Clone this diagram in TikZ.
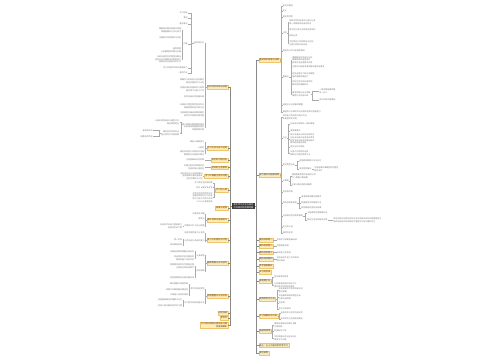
\documentclass[tikz,border=0pt]{standalone}
\usepackage{fontspec}
\setmainfont{Noto Sans CJK SC}
\definecolor{ybg}{HTML}{FDECBA}
\definecolor{ybd}{HTML}{F0C46C}
\definecolor{cbg}{HTML}{3A3A3A}
\definecolor{ln}{HTML}{AAAAAA}
\definecolor{tx}{HTML}{7A7A7A}
\tikzset{
 lf/.style={inner sep=0.2pt, text=tx, font=\fontsize{2}{2.6}\selectfont},
 ll/.style={lf, anchor=east, align=right},
 rl/.style={lf, anchor=west, align=left},
 yb/.style={fill=ybg, draw=ybd, line width=0.3pt, inner sep=0.7pt, text=black!75, font=\fontsize{2.2}{2.8}\selectfont},
 lyb/.style={yb, anchor=east, align=right},
 ryb/.style={yb, anchor=west, align=left},
 cnode/.style={fill=cbg, text=white, inner xsep=1.5pt, inner ysep=1pt, align=center, font=\fontsize{2.2}{2.8}\selectfont},
 cn/.style={line width=0.3pt, draw=ln},
 tk/.style={line width=0.6pt, draw=ln!80!black},
}
\begin{document}
\begin{tikzpicture}[x=1pt,y=-1pt]
\useasboundingbox (0,0) rectangle (500,360);
\node[cnode] (C) at (243.5,206) {高中学习方法与知识\\点归纳总结思维导图};
% ================= LEFT =================
\node[lyb] (L1) at (228,87) {知识点的归纳与总结};
\node[lyb] (L2) at (228,148) {学习方法与技巧总结};
\node[lyb] (L3) at (228,160) {常见的问题分析};
\node[lyb] (L4) at (228,167.5) {考试的注意事项};
\node[lyb] (L5) at (228,176) {学习中需要注意的问题};
\node[lyb] (L6) at (228,190) {学习的心得};
\node[lyb] (L7) at (228,208) {拓展与延伸};
\node[lyb] (L8) at (228,220) {课外阅读与拓展练习};
\node[lyb] (L9) at (228,240) {复习与巩固阶段计划};
\node[lyb] (L10) at (228,263) {解题思路与方法技巧};
\node[lyb] (L11) at (228,296) {错题整理与分析反思};
\node[lyb] (L12) at (228,313) {总结归纳};
\node[lyb] (L13) at (228,318) {参考书};
\node[lyb] (L14) at (228,325) {学习资料推荐与相关练习题\\及答案解析};
\foreach \n in {L1,L2,L3,L4,L5,L6,L7,L8,L9,L10,L11,L12,L13,L14}
  \draw[tk] (C.west) -- ++(-1.5,0) |- (\n.east);
% L1 subtree
\node[ll] (A) at (204.5,43) {基本知识点};
\node[ll] (a1a) at (188,13) {学习目标};
\node[ll] (a1b) at (188,18) {其他};
\node[ll] (a1c) at (188,24) {重点难点};
\node[ll] (B) at (188,44) {内容};
\node[ll] (b11) at (181.5,30) {理解基本概念和基本原理\\掌握重要的方法与技巧};
\node[ll] (b12) at (181.5,37.5) {注重知识间的联系与区别};
\node[ll] (b13) at (181.5,50) {典型例题\\分析解题的思路与步骤};
\node[ll] (b14) at (181.5,59.5) {归纳总结常见的题型及解法\\培养分析问题解决问题的能力\\提高综合运用知识的水平};
\node[ll] (a1e) at (188,68) {练习巩固所学知识提高能力};
\node[ll] (a1f) at (188,73) {课后作业};
\node[ll] (b1) at (204.5,81) {明确学习的目标与任务要求\\制定合理的学习计划};
\node[ll] (b2) at (204.5,89.5) {合理安排时间提高学习效率\\做好预习与复习工作};
\node[ll] (b3) at (204.5,96.5) {及时总结反思查漏补缺};
\node[ll] (b4) at (204.5,106) {多做练习题型熟悉各类考点\\掌握答题的技巧和方法};
\node[ll] (b5) at (204.5,114) {注意审题仔细阅读题目要求\\规范书写答题步骤完整};
\node[ll] (Cn) at (204.5,127) {建立错题本整理典型错误\\分析错误原因避免再犯\\定期回顾巩固};
\node[ll] (c1) at (179.5,122) {认真听讲积极参与课堂讨论\\做好课堂笔记};
\node[ll] (D) at (179.5,133) {课后及时完成作业\\独立思考不抄袭答案};
\node[ll] (d1) at (153,130.5) {查阅资料书};
\node[ll] (d2) at (153,136.5) {请教老师同学};
\foreach \c in {A,b1,b2,b3,b4,b5,Cn} \draw[cn] (L1.west) -- ++(-1,0) |- (\c.east);
\foreach \c in {a1a,a1b,a1c,B,a1e,a1f} \draw[cn] (A.west) -- ++(-3,0) |- (\c.east);
\foreach \c in {b11,b12,b13,b14} \draw[cn] (B.west) -- ++(-1,0) |- (\c.east);
\foreach \c in {c1,D} \draw[cn] (Cn.west) -- ++(-1,0) |- (\c.east);
\foreach \c in {d1,d2} \draw[cn] (D.west) -- ++(-2,0) |- (\c.east);
% L2..L5
\node[ll] (e1) at (204.5,142) {课前认真做预习};
\node[ll] (e2) at (204.5,148) {认真听};
\node[ll] (e3) at (204.5,153.5) {课后及时复习巩固所学内容\\整理笔记归纳知识要点};
\foreach \c in {e1,e2,e3} \draw[cn] (L2.west) -- ++(-1,0) |- (\c.east);
\node[ll] (f1) at (204.5,160) {注意基础知识的积累};
\draw[cn] (L3.west) -- (f1.east);
\node[ll] (g1) at (204.5,167.5) {合理分配考试答题时间\\先易后难认真检查};
\draw[cn] (L4.west) -- (g1.east);
\node[ll] (h1) at (203,176) {保持良好的心态积极面对\\遇到困难不要轻易放弃\\坚持不懈持之以恒};
\draw[cn] (L5.west) -- (h1.east);
% L6
\node[ll] (i1) at (213,183) {学习贵在坚持和积累};
\node[ll] (E) at (213,187.5) {勤学多思考};
\node[ll] (e11) at (200.5,187.5) {好问};
\node[ll] (i3) at (213,197.5) {学而不思则罔思而不学\\温故而知新可以为师矣\\知之为知之不知为不知\\三人行必有我师焉};
\foreach \c in {i1,E,i3} \draw[cn] (L6.west) -- ++(-1,0) |- (\c.east);
\draw[cn] (E.west) -- (e11.east);
% L8
\node[ll] (j1) at (205,214) {阅读相关书籍};
\node[ll] (j2) at (205,219) {做笔记};
\node[ll] (F) at (205,226) {积累知识扩大自己视野};
\node[ll] (f11) at (182.6,226) {多读多写多练习提高能力\\培养良好的习惯};
\foreach \c in {j1,j2,F} \draw[cn] (L8.west) -- ++(-1,0) |- (\c.east);
\draw[cn] (F.west) -- (f11.east);
% L9
\node[ll] (k1) at (205,233) {制定合理的复习计划表};
\node[ll] (G) at (205,241) {分阶段进行系统的复习};
\node[ll] (k2a) at (182.6,239.5) {第一阶段};
\node[ll] (k2b) at (182.6,245) {综合模拟训练};
\foreach \c in {k1,G} \draw[cn] (L9.west) -- ++(-1,0) |- (\c.east);
\foreach \c in {k2a,k2b} \draw[cn] (G.west) -- ++(-1,0) |- (\c.east);
% L10
\node[ll] (H) at (205,255.5) {认真审题};
\node[ll] (m1a) at (194.6,251.5) {仔细阅读题目明确已知条件};
\node[ll] (m1b) at (194.6,258.5) {找出题目中的关键信息\\理清各量之间的关系};
\node[ll] (I) at (205,271) {规范答题};
\node[ll] (m2a) at (194.6,266.5) {按照要求规范书写答题过程\\注意单位和有效数字};
\node[ll] (m2b) at (194.6,277.5) {检查答案是否合理正确无误};
\foreach \c in {H,I} \draw[cn] (L10.west) -- ++(-1,0) |- (\c.east);
\foreach \c in {m1a,m1b} \draw[cn] (H.west) -- ++(-1,0) |- (\c.east);
\foreach \c in {m2a,m2b} \draw[cn] (I.west) -- ++(-1,0) |- (\c.east);
% L11
\node[ll] (J) at (205,289) {常见的错误类型};
\node[ll] (n1a) at (188.6,284) {概念理解不清楚导致};
\node[ll] (n1b) at (188.6,290) {审题不仔细遗漏关键信息};
\node[ll] (n1c) at (188.6,295) {计算粗心出现的错误};
\node[ll] (K) at (205,303) {针对性的改进措施方法};
\node[ll] (n2a) at (182.6,300) {加强基础概念的理解与记忆};
\node[ll] (n2b) at (182.6,306) {养成认真仔细检查的好习惯};
\foreach \c in {J,K} \draw[cn] (L11.west) -- ++(-1,0) |- (\c.east);
\foreach \c in {n1a,n1b,n1c} \draw[cn] (J.west) -- ++(-1,0) |- (\c.east);
\foreach \c in {n2a,n2b} \draw[cn] (K.west) -- ++(-1,0) |- (\c.east);
% ================= RIGHT =================
\node[ryb] (R1) at (258.5,60) {基础知识梳理与归纳};
\node[ryb] (R2) at (258.5,175) {能力提升与拓展训练};
\node[ryb] (R3) at (258.5,240) {模拟测试题一};
\node[ryb] (R4) at (258.5,246) {模拟测试题二};
\node[ryb] (R5) at (258.5,252.5) {模拟测试题三};
\node[ryb] (R6) at (258.5,259) {模拟测试题四};
\node[ryb] (R7) at (258.5,266) {参考答案解析};
\node[ryb] (R8) at (258.5,272) {评分的标准};
\node[ryb] (R9) at (258.5,281) {易错题汇总};
\node[ryb] (R10) at (258.5,299) {高频的考点汇总};
\node[ryb] (R11) at (258.5,316) {学习效果的评价表};
\node[ryb] (R12) at (258.5,331) {拓展的阅读};
\node[ryb, inner ysep=1pt] (R13) at (258.5,345.5) {备注：以上内容仅供参考学习};
\node[ryb] (R14) at (258.5,353) {其他说明};
\foreach \n in {R1,R2,R3,R4,R5,R6,R7,R8,R9,R10,R11,R12,R13,R14}
  \draw[tk] (C.east) -- ++(1.5,0) |- (\n.west);
% R1 subtree
\node[rl] (p1) at (282.5,6) {知识点概述};
\node[rl] (p2) at (282.5,11) {定义};
\node[rl] (p3) at (282.5,17) {基本的性质};
\node[rl] (M) at (282.5,33) {分类};
\node[rl] (p4a) at (289,22.5) {按照不同的标准可以进行分类\\每一类都有其各自的特点};
\node[rl] (p4b) at (289,30) {常见的分类方法及其应用举例};
\node[rl] (p4c) at (289,36) {其他分类};
\node[rl] (p4d) at (289,43.5) {不同类别之间的联系与区别\\注意比较和归纳总结};
\node[rl] (p5) at (282.5,51) {相关的公式与定理的推导};
\node[rl] (N) at (282.5,77) {重难点};
\node[rl] (p6a) at (292,60) {理解概念的内涵与外延\\掌握规律的适用条件\\能够灵活运用解决问题};
\node[rl] (p6b) at (292,67) {注意区分容易混淆的概念避免出错误};
\node[rl] (p6c) at (292,75) {综合运用多个知识点解题\\培养逻辑思维能力};
\node[rl] (p6d) at (292,83) {实际生活中的应用举例\\联系实际理解知识};
\node[rl] (O) at (292,94) {典型例题分析与讲解\\解题方法总结归纳};
\node[rl] (p6e1) at (319,91.5) {一题多解拓展思路\\举一反三};
\node[rl] (p6e2) at (319,100) {变式训练巩固提高};
\node[rl] (p7) at (282.5,105) {易错点与注意事项提醒};
\node[rl] (p8) at (282.5,112) {课堂练习与课后作业巩固所学知识提高能力};
\foreach \c in {p1,p2,p3,M,p5,N,p7,p8} \draw[cn] (R1.east) -- ++(1,0) |- (\c.west);
\foreach \c in {p4a,p4b,p4c,p4d} \draw[cn] (M.east) -- ++(1,0) |- (\c.west);
\foreach \c in {p6a,p6b,p6c,p6d,O} \draw[cn] (N.east) -- ++(1.5,0) |- (\c.west);
\foreach \c in {p6e1,p6e2} \draw[cn] (O.east) -- ++(1.2,0) |- (\c.west);
% R2 subtree
\node[rl] (q1) at (282.5,117) {综合能力的培养与提升方法\\多角度思考问题};
\node[rl] (P) at (282.5,138) {方法};
\node[rl] (q2a) at (290,124) {归纳法从特殊到一般的推理};
\node[rl] (q2b) at (290,131) {演绎推理法};
\node[rl] (q2c) at (290,139) {类比法通过比较找出相同点\\分析法从结论出发逆向思考\\综合法由已知条件推出结论\\数形结合直观形象};
\node[rl] (q2d) at (290,147) {转化与化归思想};
\node[rl] (q2e) at (290,153) {分类讨论思想的运用\\函数与方程的思想方法};
\node[rl] (Q) at (282.5,165) {常见题型分析};
\node[rl] (q3a) at (299,161) {选择题的解题方法与技巧};
\node[rl] (Rp) at (299,169) {填空题的解法};
\node[rl] (q3b1) at (314,169) {注意答案的准确性和完整性\\规范书写};
\node[rl] (S) at (282.5,181) {计算题};
\node[rl] (q4a) at (291.5,176) {理清解题思路列出相关公式\\代入数据计算结果};
\node[rl] (q4b) at (291.5,185) {注意计算过程的准确性};
\node[rl] (q5) at (282.5,192) {实验探究题};
\node[rl] (T) at (282.5,203) {综合应用类题型};
\node[rl] (q6a) at (301,197) {审清题意明确问题要求};
\node[rl] (q6b) at (301,203) {构建模型寻找解题方法};
\node[rl] (q6c) at (301,208) {规范解答检查验证结果};
\node[rl] (U) at (282.5,216) {开放探究性问题的解答};
\node[rl] (q7a) at (307,213) {大胆猜想合理推理论证};
\node[rl] (V) at (307,220) {联系生活实际解决问题};
\node[rl] (q7b1) at (333,220) {将所学知识应用到实际生活中去解决实际问题提高能力\\培养创新意识和实践能力增强学习的兴趣和动力};
\node[rl] (q8) at (282.5,227) {学习的小结};
\node[rl] (q9) at (282.5,233) {课后的反思};
\foreach \c in {q1,P,Q,S,q5,T,U,q8,q9} \draw[cn] (R2.east) -- ++(1,0) |- (\c.west);
\foreach \c in {q2a,q2b,q2c,q2d,q2e} \draw[cn] (P.east) -- ++(1,0) |- (\c.west);
\foreach \c in {q3a,Rp} \draw[cn] (Q.east) -- ++(1.5,0) |- (\c.west);
\draw[cn] (Rp.east) -- (q3b1.west);
\foreach \c in {q4a,q4b} \draw[cn] (S.east) -- ++(1,0) |- (\c.west);
\foreach \c in {q6a,q6b,q6c} \draw[cn] (T.east) -- ++(1.5,0) |- (\c.west);
\foreach \c in {q7a,V} \draw[cn] (U.east) -- ++(1.5,0) |- (\c.west);
\draw[cn] (V.east) -- (q7b1.west);
% R3..R6
\node[rl] (s3) at (276.5,240) {检测学习效果查漏补缺};
\node[rl] (s4) at (276.5,246) {巩固提高训练};
\node[rl] (s5) at (276.5,252.5) {综合能力的检测};
\node[rl] (s6) at (276.5,259) {查找自身不足之处并改进\\提升成绩};
\draw[cn] (R3.east) -- (s3.west);
\draw[cn] (R4.east) -- (s4.west);
\draw[cn] (R5.east) -- (s5.west);
\draw[cn] (R6.east) -- (s6.west);
% R9
\node[rl] (r9a) at (274,277) {常见错误的类型};
\node[rl] (r9b) at (274,285) {分析错误原因并及时订正\\避免再次犯同样的错误};
\foreach \c in {r9a,r9b} \draw[cn] (R9.east) -- ++(1.2,0) |- (\c.west);
% R10
\node[rl] (r10a) at (278.5,290.5) {近年来高考中常考的知识点\\重点掌握};
\node[rl] (r10b) at (278.5,297.5) {考查频率较高的题型分析\\注意总结规律};
\node[rl] (r10c) at (278.5,303) {附加题};
\node[rl] (r10d) at (278.5,309) {考点分布情况};
\foreach \c in {r10a,r10b,r10c,r10d} \draw[cn] (R10.east) -- ++(1.2,0) |- (\c.west);
% R11
\node[rl] (r11a) at (280.5,313) {自我评价与同学互相评价};
\node[rl] (r11b) at (280.5,319) {老师评价与总结改进建议};
\foreach \c in {r11a,r11b} \draw[cn] (R11.east) -- ++(1.2,0) |- (\c.west);
% R12
\node[rl] (r12a) at (274,325) {推荐阅读相关的课外书籍\\开阔视野};
\node[rl] (r12b) at (274,331) {科普知识介绍};
\node[rl] (r12c) at (274,338) {学科发展历史与前沿动态\\激发学习兴趣};
\foreach \c in {r12a,r12b,r12c} \draw[cn] (R12.east) -- ++(1.2,0) |- (\c.west);
\end{tikzpicture}
\end{document}
